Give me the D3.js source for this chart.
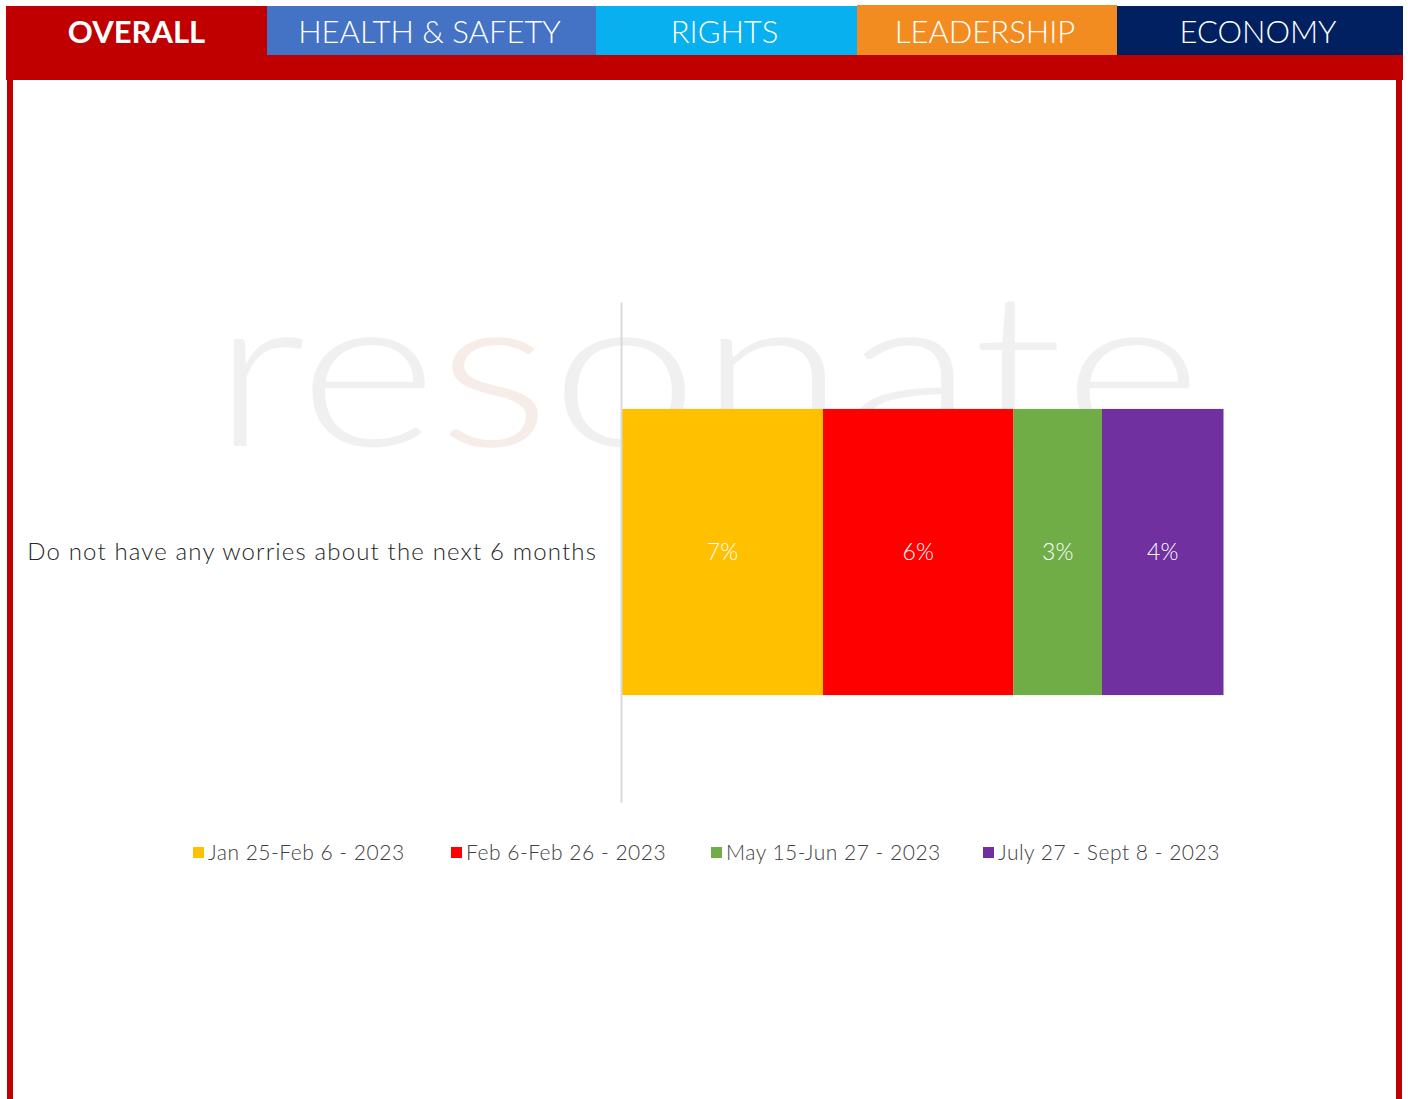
<!DOCTYPE html>
<html>
<head>
<meta charset="utf-8">
<script src="https://cdn.jsdelivr.net/npm/d3@7"></script>
<style>
  body { margin: 0; background: #fff; }
  text { font-family: Lato, "Open Sans", sans-serif; }
</style>
</head>
<body>
<div id="chart"></div>
<script>
// tabs along the top
var tabNames = ["OVERALL", "HEALTH & SAFETY", "RIGHTS", "LEADERSHIP", "ECONOMY"];
var tabColors = ["#C00000", "#4472C4", "#08B0EF", "#F28C20", "#002060"];
var tabEdges = [6, 267, 596, 857, 1117, 1403];

// chart data
var categories = ["Do not have any worries about the next 6 months"];
var seriesNames = ["Jan 25-Feb 6 - 2023", "Feb 6-Feb 26 - 2023", "May 15-Jun 27 - 2023", "July 27 - Sept 8 - 2023"];
var seriesColors = ["#FFC000", "#FF0000", "#70AD47", "#7030A0"];
var seriesValues = [0.067, 0.0635, 0.0295, 0.0405];

var W = 1408, H = 1099;
var svg = d3.select("#chart").append("svg")
  .attr("width", W).attr("height", H);

// frame
svg.append("rect").attr("x", 6).attr("y", 55).attr("width", 1397).attr("height", 25).attr("fill", "#C00000");
svg.append("rect").attr("x", 7).attr("y", 55).attr("width", 6).attr("height", H).attr("fill", "#C00000");
svg.append("rect").attr("x", 1396).attr("y", 55).attr("width", 6).attr("height", H).attr("fill", "#C00000");

var tabs = svg.append("g");
tabNames.forEach(function(t, i) {
  tabs.append("rect")
    .attr("x", tabEdges[i]).attr("y", i == 3 ? 5 : 6)
    .attr("width", tabEdges[i + 1] - tabEdges[i]).attr("height", i == 3 ? 50 : 49)
    .attr("fill", tabColors[i]);
  tabs.append("text")
    .attr("x", (tabEdges[i] + tabEdges[i + 1]) / 2 + (i == 0 ? 0 : -2))
    .attr("y", 43)
    .attr("text-anchor", "middle")
    .attr("fill", "#fff")
    .attr("font-size", 31)
    .attr("font-weight", i == 0 ? 700 : 300)
    .text(t);
});

// watermark
var wm = svg.append("text")
  .attr("x", 212).attr("y", 446)
  .attr("font-size", 215)
  .attr("font-weight", 300)
  .attr("fill", "#f0f0f0")
  .attr("textLength", 990)
  .attr("lengthAdjust", "spacingAndGlyphs");
wm.append("tspan").text("re");
wm.append("tspan").attr("fill", "#f6ece8").text("s");
wm.append("tspan").text("onate");

// scales
var x = d3.scaleLinear().domain([0, 0.25]).range([622, 1372]);
var y = d3.scaleBand().domain(categories).range([302, 802]).padding(0.272);

var stackData = [];
var acc = 0;
seriesValues.forEach(function(v, i) {
  stackData.push({ name: seriesNames[i], color: seriesColors[i], x0: acc, x1: acc + v, value: v });
  acc += v;
});

var bars = svg.append("g");
bars.selectAll("rect")
  .data(stackData)
  .enter()
  .append("rect")
    .attr("x", function(d) { return x(d.x0); })
    .attr("y", y(categories[0]))
    .attr("width", function(d) { return x(d.x1) - x(d.x0); })
    .attr("height", y.bandwidth())
    .attr("fill", function(d) { return d.color; });

bars.selectAll("text")
  .data(stackData)
  .enter()
  .append("text")
    .attr("x", function(d) { return (x(d.x0) + x(d.x1)) / 2; })
    .attr("y", y(categories[0]) + y.bandwidth() / 2)
    .attr("dy", "0.35em")
    .attr("text-anchor", "middle")
    .attr("fill", "#fff")
    .attr("font-size", 23)
    .attr("font-weight", 300)
    .text(function(d) { return d3.format(".0%")(d.value); });

// y axis line + category label
var yAxis = svg.append("g")
  .attr("transform", "translate(621,0)")
  .call(d3.axisLeft(y).tickSize(0).tickPadding(24));
yAxis.select(".domain").attr("stroke", "#d9d9d9").attr("stroke-width", 2);
yAxis.selectAll("text")
  .attr("font-size", 24)
  .attr("font-weight", 300)
  .attr("fill", "#262626")
  .attr("letter-spacing", 1.15)
  .style("font-family", "Lato, 'Open Sans', sans-serif");

// legend
var legendX = [193, 451, 711, 983];
var legend = svg.append("g");
seriesNames.forEach(function(s, i) {
  legend.append("rect")
    .attr("x", legendX[i]).attr("y", 847)
    .attr("width", 11).attr("height", 11)
    .attr("fill", seriesColors[i]);
  legend.append("text")
    .attr("x", legendX[i] + 15).attr("y", 860)
    .attr("font-size", 21)
    .attr("font-weight", 300)
    .attr("letter-spacing", 0.5)
    .attr("fill", "#404040")
    .text(s);
});
</script>
</body>
</html>
